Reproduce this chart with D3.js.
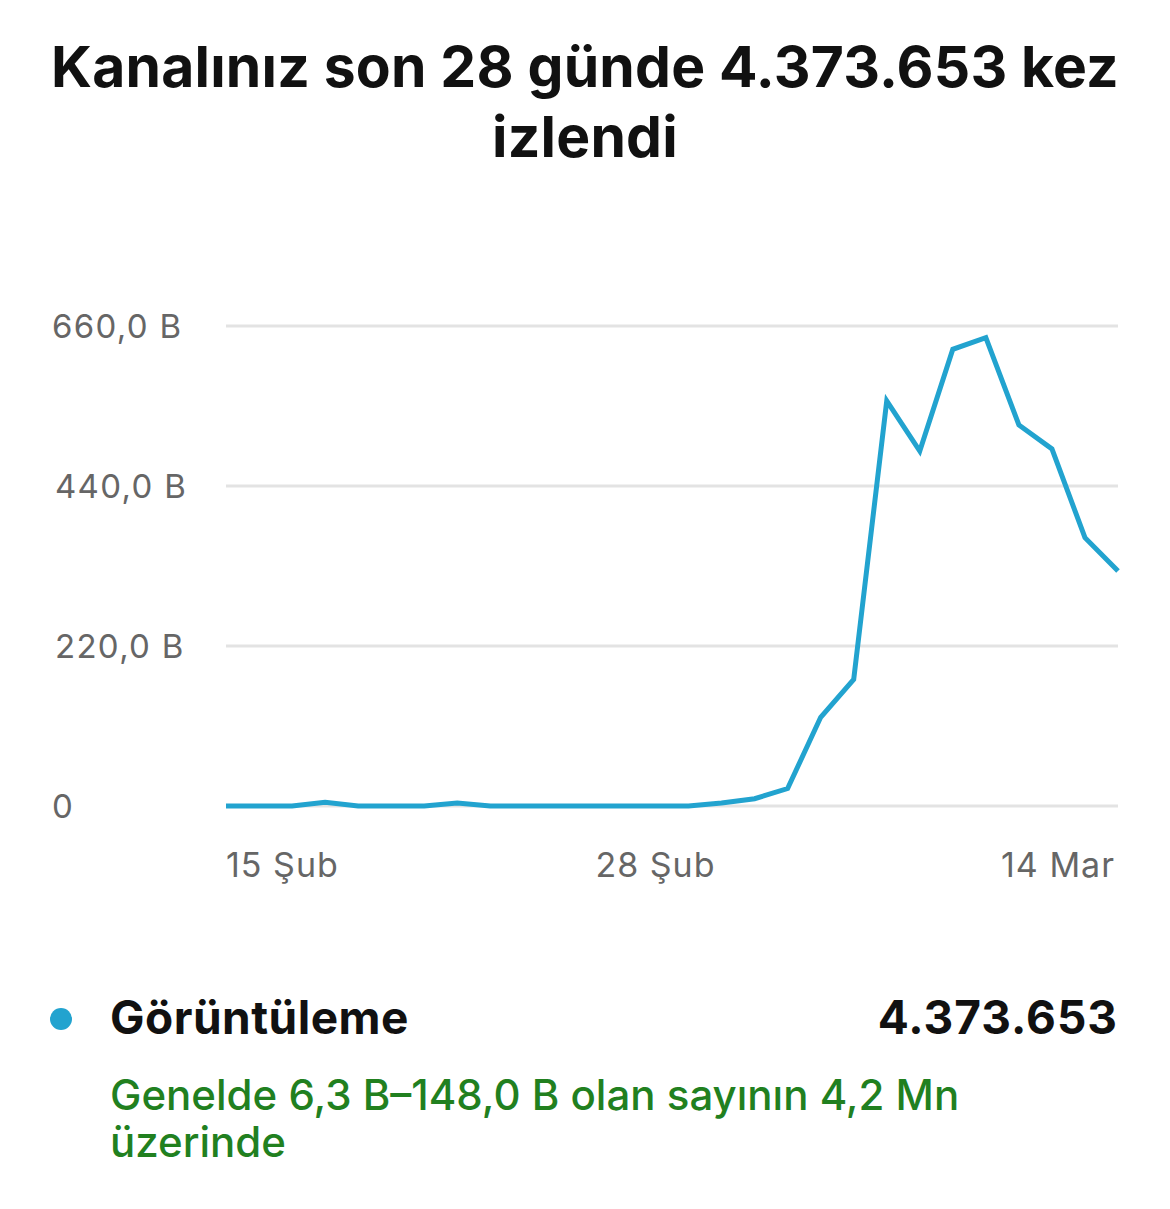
<!DOCTYPE html>
<html>
<head>
<meta charset="utf-8">
<script src="https://cdn.jsdelivr.net/npm/d3@7"></script>
<style>
  body { margin: 0; background: #fff; }
  svg { display: block; font-family: Inter, Roboto, "Noto Sans", sans-serif; }
</style>
</head>
<body>
<div id="chart"></div>
<script>
// günlük görüntüleme (bin = B), 15 Şub - 14 Mar
const days = d3.range(28).map(i => new Date(2023, 1, 15 + i));
const views = [0, 0, 0, 5, 0, 0, 0, 4, 0, 0, 0, 0, 0, 0, 0, 4, 10, 24,
  122, 174, 557, 488, 628, 644, 524, 491, 369, 323];
const yTicks = [0, 220, 440, 660];
const yTickLabels = ["0", "220,0 B", "440,0 B", "660,0 B"];
const xTickDates = [new Date(2023, 1, 15), new Date(2023, 1, 28), new Date(2023, 2, 14)];
const xTickLabels = ["15 Şub", "28 Şub", "14 Mar"];
const titleLines = ["Kanalınız son 28 günde 4.373.653 kez", "izlendi"];
const seriesName = "Görüntüleme";
const seriesTotal = "4.373.653";
const noteLines = ["Genelde 6,3 B–148,0 B olan sayının 4,2 Mn", "üzerinde"];

const W = 1170, H = 1209;
const lineColor = "#22a3cf";

const svg = d3.select("#chart").append("svg")
  .attr("width", W)
  .attr("height", H);

// Başlık
svg.append("g").selectAll("text")
  .data(titleLines)
  .join("text")
  .attr("x", W / 2)
  .attr("y", (d, i) => 87 + i * 70)
  .attr("text-anchor", "middle")
  .style("font-size", "57px")
  .style("font-weight", "bold")
  .style("letter-spacing", "0.2px")
  .style("fill", "#111")
  .text(d => d);

const x = d3.scaleTime()
  .domain(d3.extent(days))
  .range([226, 1118]);

const y = d3.scaleLinear()
  .domain([0, 660])
  .range([806, 326]);

// grid
svg.append("g").selectAll("line")
  .data(yTicks)
  .join("line")
  .attr("x1", 226)
  .attr("x2", 1118)
  .attr("y1", d => y(d))
  .attr("y2", d => y(d))
  .attr("stroke", "#e3e3e3")
  .attr("stroke-width", 3);

// y etiketleri
svg.append("g").selectAll("text")
  .data(yTicks)
  .join("text")
  .attr("x", (d, i) => (i === 1 || i === 2) ? 55 : 52)
  .attr("y", d => y(d) + 12)
  .style("font-size", "33px")
  .style("letter-spacing", "1.3px")
  .style("fill", "#666")
  .text((d, i) => yTickLabels[i]);

// x etiketleri
const anchors = ["start", "middle", "end"];
svg.append("g").selectAll("text")
  .data(xTickDates)
  .join("text")
  .attr("x", (d, i) => x(d) + (i === 2 ? -3 : 0))
  .attr("y", 877)
  .attr("text-anchor", (d, i) => anchors[i])
  .style("font-size", "34px")
  .style("letter-spacing", "1px")
  .style("fill", "#666")
  .text((d, i) => xTickLabels[i]);

// çizgi
const line = d3.line()
  .x((d, i) => x(days[i]))
  .y(d => y(d));

svg.append("path")
  .datum(views)
  .attr("d", line)
  .attr("fill", "none")
  .attr("stroke", lineColor)
  .attr("stroke-width", 5)
  .attr("stroke-linejoin", "miter");

// Lejant
svg.append("circle")
  .attr("cx", 61)
  .attr("cy", 1019)
  .attr("r", 11)
  .attr("fill", lineColor);

svg.append("text")
  .attr("x", 110)
  .attr("y", 1034)
  .style("font-size", "46px")
  .style("font-weight", "bold")
  .style("letter-spacing", "0.5px")
  .style("fill", "#111")
  .text(seriesName);

svg.append("text")
  .attr("x", 1118)
  .attr("y", 1034)
  .attr("text-anchor", "end")
  .style("font-size", "46px")
  .style("font-weight", "bold")
  .style("letter-spacing", "1px")
  .style("fill", "#111")
  .text(seriesTotal);

svg.append("g").selectAll("text")
  .data(noteLines)
  .join("text")
  .attr("x", 110)
  .attr("y", (d, i) => 1110 + i * 47)
  .style("font-size", "42px")
  .style("font-weight", 500)
  .style("fill", "#21801f")
  .text(d => d);
</script>
</body>
</html>
